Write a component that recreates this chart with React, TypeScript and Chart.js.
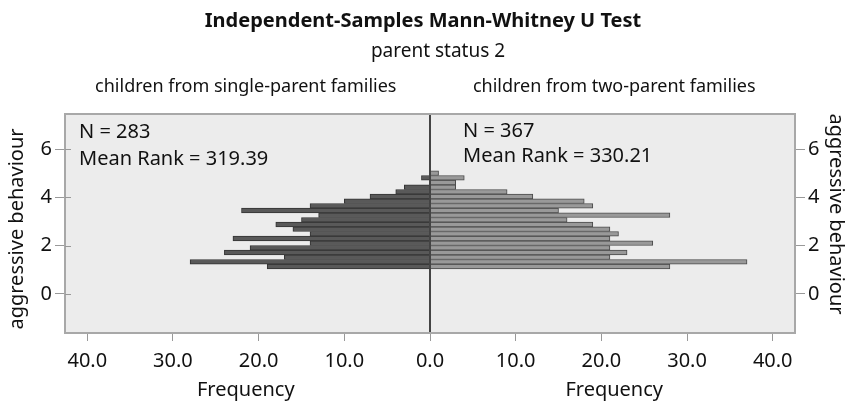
import React, { useEffect, useRef } from "react";
import { Chart, registerables } from "chart.js";

Chart.register(...registerables);

// Bin centres of "aggressive behaviour" (bottom to top)
const binCenters = [
  1.137, 1.330, 1.524, 1.717, 1.911, 2.104, 2.298, 2.491, 2.685, 2.878, 3.072,
  3.265, 3.459, 3.652, 3.846, 4.039, 4.233, 4.426, 4.620, 4.813, 5.007,
];
// children from single-parent families (N = 283)
const singleParentCounts = [
  19, 28, 17, 24, 21, 14, 23, 14, 16, 18, 15, 13, 22, 14, 10, 7, 4, 3, 0, 1, 0,
];
// children from two-parent families (N = 367)
const twoParentCounts = [
  28, 37, 21, 23, 21, 26, 21, 22, 21, 19, 16, 28, 15, 19, 18, 12, 9, 3, 3, 4, 1,
];
const xTickValues = [-40, -30, -20, -10, 0, 10, 20, 30, 40];
const yTickValues = [0, 2, 4, 6];

const titleText = "Independent-Samples Mann-Whitney U Test";
const subtitleText = "parent status 2";
const groupLabels = ["children from single-parent families", "children from two-parent families"];
const groupN = ["N = 283", "N = 367"];
const groupMeanRank = ["Mean Rank = 319.39", "Mean Rank = 330.21"];
const xAxisTitle = "Frequency";
const yAxisTitle = "aggressive behaviour";

const FONT = "'Noto Sans', sans-serif";

const textPlugin = {
  id: "pyramidText",
  beforeDraw(chart: any) {
    const { ctx, chartArea } = chart;
    ctx.save();
    ctx.fillStyle = "#ececec";
    ctx.fillRect(chartArea.left, chartArea.top, chartArea.right - chartArea.left, chartArea.bottom - chartArea.top);
    ctx.restore();
  },
  afterDatasetsDraw(chart: any) {
    const { ctx, chartArea, scales } = chart;
    const x0 = scales.x.getPixelForValue(0);
    ctx.save();
    ctx.strokeStyle = "#444";
    ctx.lineWidth = 2;
    ctx.beginPath();
    ctx.moveTo(x0, chartArea.top);
    ctx.lineTo(x0, chartArea.bottom);
    ctx.stroke();
    ctx.strokeStyle = "#a8a8a8";
    ctx.lineWidth = 2;
    ctx.strokeRect(chartArea.left, chartArea.top, chartArea.right - chartArea.left, chartArea.bottom - chartArea.top);
    // inner extension of left y ticks
    ctx.strokeStyle = "#999";
    ctx.lineWidth = 1;
    yTickValues.forEach((v) => {
      const py = Math.round(scales.y.getPixelForValue(v)) + 0.5;
      ctx.beginPath();
      ctx.moveTo(chartArea.left, py);
      ctx.lineTo(chartArea.left + 6, py);
      ctx.stroke();
    });

    ctx.fillStyle = "#111";
    ctx.font = `20px ${FONT}`;
    ctx.textAlign = "left";
    ctx.textBaseline = "alphabetic";
    ctx.fillText(groupN[0], chartArea.left + 14, 138);
    ctx.fillText(groupMeanRank[0], chartArea.left + 14, 165);
    ctx.fillText(groupN[1], x0 + 33, 137);
    ctx.fillText(groupMeanRank[1], x0 + 33, 162);
    ctx.restore();
  },
  afterDraw(chart: any) {
    const { ctx, scales } = chart;
    const x0 = scales.x.getPixelForValue(0);
    const xl = scales.x.getPixelForValue(-21.5);
    const xr = scales.x.getPixelForValue(21.5);
    ctx.save();
    ctx.fillStyle = "#111";
    ctx.textAlign = "center";
    ctx.textBaseline = "alphabetic";
    ctx.font = `bold 20px ${FONT}`;
    ctx.fillText(titleText, x0 - 7, 27);
    ctx.font = `19px ${FONT}`;
    ctx.fillText(subtitleText, x0 + 8, 57);
    ctx.font = `18px ${FONT}`;
    ctx.fillText(groupLabels[0], xl, 92);
    ctx.fillText(groupLabels[1], xr, 92);
    ctx.font = `20px ${FONT}`;
    ctx.fillText(xAxisTitle, xl, 396);
    ctx.fillText(xAxisTitle, xr, 396);

    // rotated y-axis titles
    ctx.textBaseline = "middle";
    ctx.save();
    ctx.translate(17, 229);
    ctx.rotate(-Math.PI / 2);
    ctx.fillText(yAxisTitle, 0, 0);
    ctx.restore();
    ctx.save();
    ctx.translate(836, 214);
    ctx.rotate(Math.PI / 2);
    ctx.fillText(yAxisTitle, 0, 0);
    ctx.restore();
    ctx.restore();
  },
};

export default function App() {
  const canvasRef = useRef<HTMLCanvasElement | null>(null);

  useEffect(() => {
    if (!canvasRef.current) return;
    const yScaleCommon = {
      type: "linear" as const,
      min: -1.62,
      max: 7.46,
      offset: false,
      afterBuildTicks: (scale: any) => {
        scale.ticks = yTickValues.map((v) => ({ value: v }));
      },
      grid: { offset: false, drawOnChartArea: false, drawTicks: true, tickLength: 10, color: "#999", lineWidth: 1 },
      border: { display: false },
      ticks: { font: { size: 20, family: FONT }, color: "#111", padding: 3 },
      title: { display: false, text: yAxisTitle },
    };
    const chart = new Chart(canvasRef.current, {
      type: "bar",
      data: {
        datasets: [
          {
            label: groupLabels[0],
            data: singleParentCounts.map((c, i) => ({ x: -c, y: binCenters[i] })),
            backgroundColor: "#595959",
            borderColor: "#333",
            borderWidth: 1,
            grouped: false,
            categoryPercentage: 1,
            barPercentage: 1,
          },
          {
            label: groupLabels[1],
            data: twoParentCounts.map((c, i) => ({ x: c, y: binCenters[i] })),
            backgroundColor: "#999999",
            borderColor: "#4a4a4a",
            borderWidth: 1,
            grouped: false,
            categoryPercentage: 1,
            barPercentage: 1,
          },
        ],
      },
      options: {
        animation: false,
        responsive: true,
        maintainAspectRatio: false,
        indexAxis: "y",
        layout: { padding: { top: 114, left: 0, right: 0, bottom: 0 } },
        plugins: {
          legend: { display: false },
          tooltip: { enabled: false },
          title: { display: false },
        },
        scales: {
          x: {
            type: "linear",
            min: -42.6,
            max: 42.6,
            offset: false,
            afterBuildTicks: (scale: any) => {
              scale.ticks = xTickValues.map((v) => ({ value: v }));
            },
            afterFit: (scale: any) => {
              scale.height = 69;
            },
            grid: { offset: false, drawOnChartArea: false, drawTicks: true, tickLength: 8, color: "#999" },
            border: { display: false },
            ticks: {
              font: { size: 20, family: FONT },
              color: "#111",
              padding: 8,
              maxRotation: 0,
              autoSkip: false,
              callback: (v: any) => Math.abs(Number(v)).toFixed(1),
            },
          },
          y: {
            ...yScaleCommon,
            position: "left",
            afterFit: (scale: any) => {
              scale.width = 65;
            },
          },
          y2: {
            ...yScaleCommon,
            position: "right",
            afterFit: (scale: any) => {
              scale.width = 56;
            },
          },
        },
      } as any,
      plugins: [textPlugin],
    });
    return () => chart.destroy();
  }, []);

  return (
    <div style={{ position: "fixed", left: 0, top: 0, width: 851, height: 402, background: "#fff" }}>
      <canvas ref={canvasRef} />
    </div>
  );
}
